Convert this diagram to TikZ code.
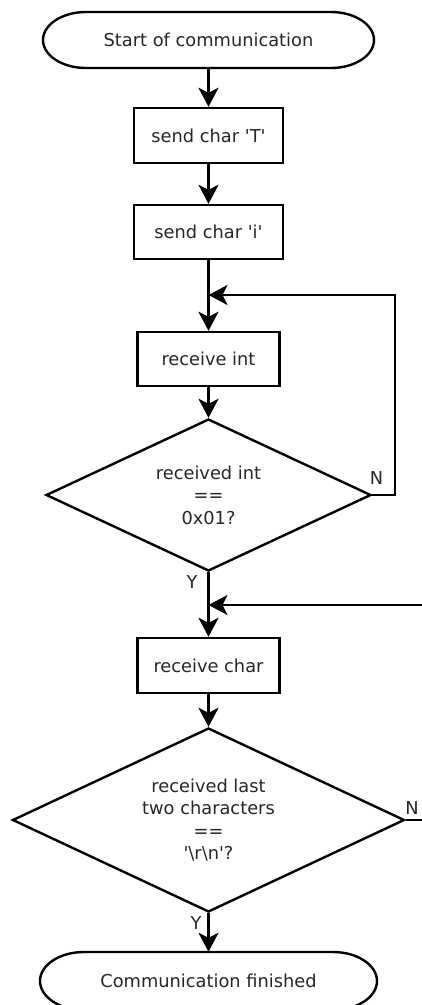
\documentclass[tikz,border=0pt]{standalone}
\usepackage{fontspec}
\setmainfont{DejaVu Sans}
\usetikzlibrary{shapes.geometric,arrows.meta}
\newcommand{\sq}{\textquotesingle}
\begin{document}
\begin{tikzpicture}[x=1pt,y=1pt,
  every node/.style={font=\fontsize{17.8}{22.5}\selectfont, text=black!85},
  procbox/.style={draw=black, line width=2.4pt, minimum height=55pt, inner sep=0pt},
  decision/.style={draw=black, line width=2.4pt, shape=diamond, inner sep=0pt, align=center},
  termshape/.style={minimum height=56pt, inner sep=0pt},
  flow/.style={line width=2.4pt, -{Stealth[length=19pt,width=20pt,inset=5pt]}},
  plain/.style={line width=2.4pt},
  lbl/.style={inner sep=0pt}
]
\useasboundingbox (0,0) rectangle (421,-1005);

% start terminal
\node[termshape, minimum width=331pt] (start) at (208.5,-40) {Start of communication};
\draw[line width=2.4pt] (86,-12) -- (331,-12) arc[start angle=90,end angle=-90,x radius=43,y radius=28]
  -- (86,-68) arc[start angle=270,end angle=90,x radius=43,y radius=28] -- cycle;

\node[procbox, minimum width=149pt] (sT) at (208.5,-135.5) {send char \sq T\sq};
\node[procbox, minimum width=149pt, minimum height=54pt] (si) at (208.5,-232) {send char \sq i\sq};
\node[procbox, minimum width=142pt, minimum height=54pt] (rint) at (208.5,-359) {receive int};
\node[decision, minimum width=325pt, minimum height=152pt, aspect=2.14] (d1) at (208.5,-495) {received int\\==\\0x01?};
\node[procbox, minimum width=142pt] (rchar) at (208.5,-665.5) {receive char};
\node[decision, minimum width=392pt, minimum height=184pt, aspect=2.13] (d2) at (208.5,-820) {received last\\two characters\\==\\\sq\textbackslash r\textbackslash n\sq?};

% end terminal
\node[termshape, minimum width=338pt, minimum height=58pt] (fin) at (208.5,-981) {Communication finished};
\draw[line width=2.4pt] (84,-952) -- (333,-952) arc[start angle=90,end angle=-90,x radius=44,y radius=29]
  -- (84,-1010) arc[start angle=270,end angle=90,x radius=44,y radius=29] -- cycle;

% junctions
\coordinate (j1) at (208.5,-295);
\coordinate (c1a) at (395,-495);
\coordinate (c1b) at (395,-295);
\coordinate (j2) at (208.5,-605);
\coordinate (in2) at (430,-605);
\coordinate (out2) at (430,-820);

% connectors
\draw[flow] (start.south) -- (sT.north);
\draw[flow] (sT.south) -- (si.north);
\draw[plain] (si.south) -- (j1);
\draw[flow] (j1) -- (rint.north);
\draw[flow] (rint.south) -- (d1.north);
\draw[flow] (d1.east) -- (c1a) -- (c1b) -- (j1);
\draw[plain] (d1.south) -- (j2);
\draw[flow] (in2) -- (j2);
\draw[flow] (j2) -- (rchar.north);
\draw[flow] (rchar.south) -- (d2.north);
\draw[plain] (d2.east) -- (out2);
\draw[flow] (d2.south) -- (fin.north);

% labels
\node[lbl] (n1) at (376.5,-478.5) {N};
\node[lbl] (y1) at (192,-582.5) {Y};
\node[lbl] (n2) at (412,-808) {N};
\node[lbl] (y2) at (196,-923) {Y};
\end{tikzpicture}
\end{document}
